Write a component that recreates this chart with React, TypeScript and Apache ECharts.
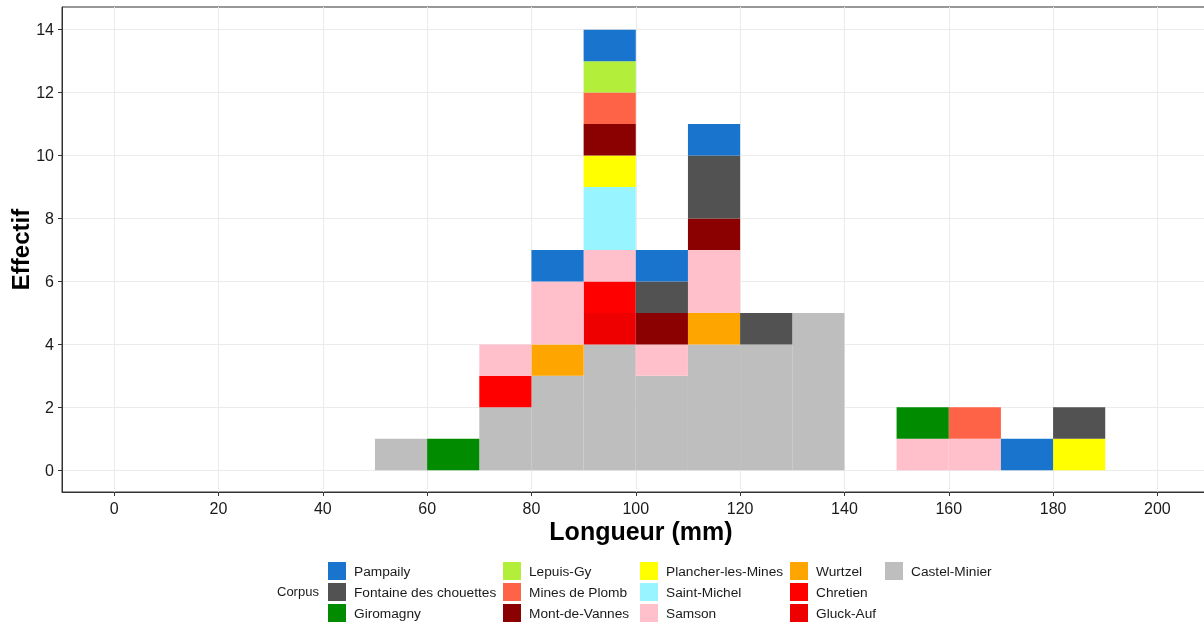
import React, { useEffect, useRef } from "react";
import * as echarts from "echarts";

// bin starts (width 10 mm)
const binStarts = [50, 60, 70, 80, 90, 100, 110, 120, 130, 140, 150, 160, 170, 180];
const binWidth = 10;

// Stack order from bottom to top
const castelMinier = [1, 0, 2, 3, 4, 3, 4, 4, 5, 0, 0, 0, 0, 0];
const gluckAuf = [0, 0, 0, 0, 1, 0, 0, 0, 0, 0, 0, 0, 0, 0];
const chretien = [0, 0, 1, 0, 1, 0, 0, 0, 0, 0, 0, 0, 0, 0];
const wurtzel = [0, 0, 0, 1, 0, 0, 1, 0, 0, 0, 0, 0, 0, 0];
const samson = [0, 0, 1, 2, 1, 1, 2, 0, 0, 0, 1, 1, 0, 0];
const saintMichel = [0, 0, 0, 0, 2, 0, 0, 0, 0, 0, 0, 0, 0, 0];
const plancher = [0, 0, 0, 0, 1, 0, 0, 0, 0, 0, 0, 0, 0, 1];
const montDeVannes = [0, 0, 0, 0, 1, 1, 1, 0, 0, 0, 0, 0, 0, 0];
const minesDePlomb = [0, 0, 0, 0, 1, 0, 0, 0, 0, 0, 0, 1, 0, 0];
const lepuisGy = [0, 0, 0, 0, 1, 0, 0, 0, 0, 0, 0, 0, 0, 0];
const giromagny = [0, 1, 0, 0, 0, 0, 0, 0, 0, 0, 1, 0, 0, 0];
const fontaine = [0, 0, 0, 0, 0, 1, 2, 1, 0, 0, 0, 0, 0, 1];
const pampaily = [0, 0, 0, 1, 1, 1, 1, 0, 0, 0, 0, 0, 1, 0];

const stackOrder: { name: string; counts: number[]; color: string }[] = [
  { name: "Castel-Minier", counts: castelMinier, color: "#BEBEBE" },
  { name: "Gluck-Auf", counts: gluckAuf, color: "#EE0000" },
  { name: "Chretien", counts: chretien, color: "#FF0000" },
  { name: "Wurtzel", counts: wurtzel, color: "#FFA500" },
  { name: "Samson", counts: samson, color: "#FFC0CB" },
  { name: "Saint-Michel", counts: saintMichel, color: "#98F5FF" },
  { name: "Plancher-les-Mines", counts: plancher, color: "#FFFF00" },
  { name: "Mont-de-Vannes", counts: montDeVannes, color: "#8B0000" },
  { name: "Mines de Plomb", counts: minesDePlomb, color: "#FF6347" },
  { name: "Lepuis-Gy", counts: lepuisGy, color: "#B3EE3A" },
  { name: "Giromagny", counts: giromagny, color: "#008B00" },
  { name: "Fontaine des chouettes", counts: fontaine, color: "#525252" },
  { name: "Pampaily", counts: pampaily, color: "#1874CD" },
];

const legendColumns = [
  ["Pampaily", "Fontaine des chouettes", "Giromagny"],
  ["Lepuis-Gy", "Mines de Plomb", "Mont-de-Vannes"],
  ["Plancher-les-Mines", "Saint-Michel", "Samson"],
  ["Wurtzel", "Chretien", "Gluck-Auf"],
  ["Castel-Minier"],
];
const legendLefts = [328, 503, 640, 790, 885];

const xTickLabels = [0, 20, 40, 60, 80, 100, 120, 140, 160, 180, 200];
const yTickLabels = [0, 2, 4, 6, 8, 10, 12, 14];

const FONT = "'Liberation Sans', Arial, sans-serif";

export default function App() {
  const ref = useRef<HTMLDivElement>(null);
  useEffect(() => {
    if (!ref.current) return;
    const chart = echarts.init(ref.current, undefined, { renderer: "svg" });

    const cum = binStarts.map(() => 0);
    const series: any[] = stackOrder.map((s) => {
      const data: number[][] = [];
      s.counts.forEach((c, i) => {
        if (c > 0) {
          data.push([binStarts[i], binStarts[i] + binWidth, cum[i], cum[i] + c]);
          cum[i] += c;
        }
      });
      return {
        type: "custom",
        name: s.name,
        itemStyle: { color: s.color },
        encode: { x: [0, 1], y: [2, 3] },
        data,
        renderItem: (params: any, api: any) => {
          const p0 = api.coord([api.value(0), api.value(2)]);
          const p1 = api.coord([api.value(1), api.value(3)]);
          return {
            type: "rect",
            shape: { x: p0[0], y: p1[1], width: p1[0] - p0[0], height: p0[1] - p1[1] },
            style: { fill: api.visual("color") },
          };
        },
      };
    });

    const legends = legendColumns.map((col, i) => ({
      orient: "vertical",
      left: legendLefts[i],
      top: 562,
      padding: 0,
      itemWidth: 18,
      itemHeight: 18,
      itemGap: 3,
      icon: "rect",
      selectedMode: false,
      data: col,
      textStyle: { fontSize: 13.7, color: "#1a1a1a", fontFamily: FONT, padding: [0, 0, 0, 3] },
    }));

    chart.setOption({
      animation: false,
      textStyle: { fontFamily: FONT },
      grid: {
        left: 62,
        top: 7,
        width: 1158,
        height: 485,
        show: true,
        borderColor: "#333333",
        borderWidth: 1,
        containLabel: false,
        outerBoundsMode: "none",
      },
      legend: legends,
      graphic: [
        {
          type: "text",
          left: 277,
          top: 585,
          style: { text: "Corpus", fontSize: 13, fill: "#1a1a1a", fontFamily: FONT },
        },
      ],
      xAxis: {
        type: "value",
        min: -10,
        max: 212,
        interval: 10,
        name: "Longueur (mm)",
        nameLocation: "middle",
        nameGap: 26,
        nameMoveOverlap: false,
        nameTextStyle: { fontSize: 25, fontWeight: "bold", color: "#000", fontFamily: FONT, verticalAlign: "top" },
        axisLine: { show: true, onZero: false, lineStyle: { color: "#333333", width: 1 } },
        axisTick: { show: true, length: 4, customValues: xTickLabels, lineStyle: { color: "#333333" } },
        axisLabel: { customValues: xTickLabels, fontSize: 16, color: "#1a1a1a", margin: 8, fontFamily: FONT },
        splitLine: { show: true, lineStyle: { color: "#EBEBEB", width: 1 } },
      },
      yAxis: {
        type: "value",
        min: -0.69,
        max: 14.72,
        minInterval: 1,
        maxInterval: 1,
        name: "Effectif",
        nameLocation: "middle",
        nameGap: 30,
        nameMoveOverlap: false,
        nameTextStyle: { fontSize: 24, fontWeight: "bold", color: "#000", fontFamily: FONT },
        axisLine: { show: true, onZero: false, lineStyle: { color: "#333333", width: 1 } },
        axisTick: { show: true, length: 4, customValues: yTickLabels, lineStyle: { color: "#333333" } },
        axisLabel: { customValues: yTickLabels, fontSize: 16, color: "#1a1a1a", margin: 8, fontFamily: FONT },
        splitLine: { show: true, lineStyle: { color: "#EBEBEB", width: 1 } },
      },
      series,
    });
    return () => chart.dispose();
  }, []);
  return (
    <div
      ref={ref}
      style={{ position: "fixed", left: 0, top: 0, width: 1204, height: 625 }}
    />
  );
}
